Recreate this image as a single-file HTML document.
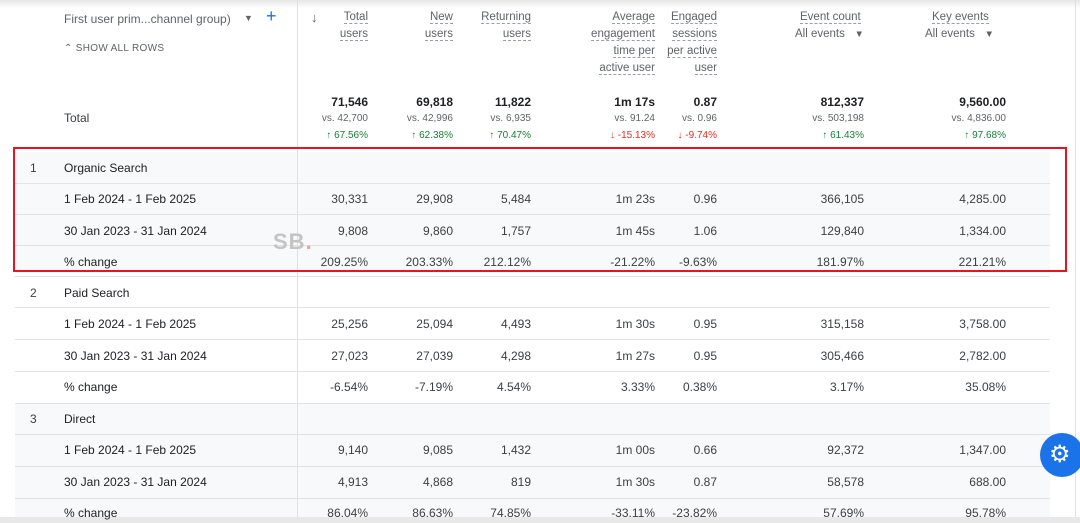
<!DOCTYPE html><html><head><style>
body{margin:0;width:1080px;height:523px;overflow:hidden;background:#fff;font-family:"Liberation Sans",Arial,sans-serif;color:#3c4043;position:relative}
.a{position:absolute;white-space:nowrap;font-size:12px}
.r{text-align:right}
.h{position:absolute;font-size:11.5px;color:#5f6368;text-align:right;line-height:17px}
.h span{border-bottom:1px dashed #9aa0a6}
.hl{position:absolute;left:15px;width:1035px;height:1px;background:#e3e3e3}
.bg{position:absolute;left:15px;width:1035px;background:#f8f9fa}
</style></head><body>
<div style="position:absolute;left:0;top:0;width:1080px;height:8px;background:linear-gradient(#e6e6e6,#fff)"></div>
<div class="bg" style="top:152px;height:118px"></div>
<div class="bg" style="top:403px;height:115px"></div>
<div style="position:absolute;left:297px;top:0;width:1px;height:518px;background:#e0e0e0"></div>
<div style="position:absolute;left:1075px;top:0;width:1px;height:518px;background:#e0e0e0"></div>
<div style="position:absolute;left:0;top:517px;width:1080px;height:6px;background:#e8e8e8"></div>
<div class="a" style="left:64px;top:12px;color:#5f6368">First user prim...channel group)</div>
<div class="a" style="left:244px;top:13px;color:#5f6368;font-size:9px">▼</div>
<div class="a" style="left:266px;top:6px;color:#1a73e8;font-size:18px">+</div>
<div class="a" style="left:64px;top:43px;color:#5f6368;font-size:10px;letter-spacing:.3px">⌃ SHOW ALL ROWS</div>
<div class="a" style="left:311px;top:10px;color:#5f6368;font-size:13px">↓</div>
<div class="h" style="right:712px;top:9px"><span>Total</span><br><span>users</span></div>
<div class="h" style="right:627px;top:9px"><span>New</span><br><span>users</span></div>
<div class="h" style="right:549px;top:9px"><span>Returning</span><br><span>users</span></div>
<div class="h" style="right:425px;top:9px"><span>Average</span><br><span>engagement</span><br><span>time per</span><br><span>active user</span></div>
<div class="h" style="right:363px;top:9px"><span>Engaged</span><br><span>sessions</span><br><span>per active</span><br><span>user</span></div>
<div class="h" style="left:800px;top:9px;text-align:left"><span>Event count</span></div>
<div class="h" style="left:795px;top:26px;text-align:left">All events &nbsp;&nbsp;<small>▼</small></div>
<div class="h" style="left:932px;top:9px;text-align:left"><span>Key events</span></div>
<div class="h" style="left:925px;top:26px;text-align:left">All events &nbsp;&nbsp;<small>▼</small></div>
<div class="a" style="left:64px;top:111px">Total</div>
<div id="t"></div>
<div class="hl" style="top:183px"></div><div class="hl" style="top:214px"></div><div class="hl" style="top:245px"></div><div class="hl" style="top:276px"></div>
<div class="hl" style="top:307px"></div><div class="hl" style="top:339px"></div><div class="hl" style="top:371px"></div><div class="hl" style="top:403px"></div>
<div class="hl" style="top:434px"></div><div class="hl" style="top:466px"></div><div class="hl" style="top:498px"></div>
<div style="position:absolute;left:13px;top:147px;width:1050px;height:121px;border:2px solid #e5161f"></div>
<div class="a" style="left:273px;top:229px;font-size:22px;font-weight:bold;color:#c4c4c4;letter-spacing:1px">SB<span style="color:#f4a0a0">.</span></div>
<div style="position:absolute;left:1040px;top:433px;width:44px;height:44px;border-radius:50%;background:#1a73e8;color:#fff;font-size:24px;line-height:44px;text-indent:9px">⚙</div>
<script>
const R=[368,453,531,655,717,864,1006];
let h='';
function row(y,vals,sty){vals.forEach((v,i)=>{h+=`<div class="a r" style="right:${1080-R[i]}px;top:${y}px;${sty||''}">${v}</div>`})}
row(95,['71,546','69,818','11,822','1m 17s','0.87','812,337','9,560.00'],'font-weight:bold;color:#202124');
row(113,['vs. 42,700','vs. 42,996','vs. 6,935','vs. 91.24','vs. 0.96','vs. 503,198','vs. 4,836.00'],'font-size:10px;color:#5f6368');
const c=['↑ 67.56%','↑ 62.38%','↑ 70.47%','↓ -15.13%','↓ -9.74%','↑ 61.43%','↑ 97.68%'];
c.forEach((v,i)=>{h+=`<div class="a r" style="right:${1080-R[i]}px;top:130px;font-size:10px;color:${v[0]=='↓'?'#d93025':'#188038'}">${v}</div>`});
const S=[[167,'1','Organic Search',[['30,331','29,908','5,484','1m 23s','0.96','366,105','4,285.00'],['9,808','9,860','1,757','1m 45s','1.06','129,840','1,334.00'],['209.25%','203.33%','212.12%','-21.22%','-9.63%','181.97%','221.21%']]],
[292,'2','Paid Search',[['25,256','25,094','4,493','1m 30s','0.95','315,158','3,758.00'],['27,023','27,039','4,298','1m 27s','0.95','305,466','2,782.00'],['-6.54%','-7.19%','4.54%','3.33%','0.38%','3.17%','35.08%']]],
[418,'3','Direct',[['9,140','9,085','1,432','1m 00s','0.66','92,372','1,347.00'],['4,913','4,868','819','1m 30s','0.87','58,578','688.00'],['86.04%','86.63%','74.85%','-33.11%','-23.82%','57.69%','95.78%']]]];
const L=['1 Feb 2024 - 1 Feb 2025','30 Jan 2023 - 31 Jan 2024','% change'];
S.forEach(([y,n,name,rows])=>{
 h+=`<div class="a" style="left:30px;top:${y-6}px">${n}</div><div class="a" style="left:64px;top:${y-6}px;font-weight:500;color:#202124">${name}</div>`;
 const ys=[y+31,y+63,y+94];
 rows.forEach((r,k)=>{h+=`<div class="a" style="left:64px;top:${ys[k]-6}px;color:#202124">${L[k]}</div>`;row(ys[k]-6,r)});
});
document.getElementById('t').outerHTML=h;
</script>
</body></html>
